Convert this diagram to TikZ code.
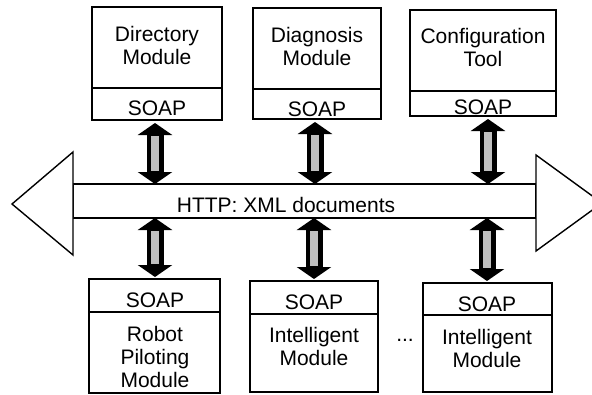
\documentclass[tikz,border=0pt]{standalone}
\usepackage{fontspec}
\setmainfont{Liberation Sans}
\usetikzlibrary{arrows.meta,calc}
\tikzset{
  x=1pt,y=-1pt,
  modbox/.style={draw=black,line width=1.4pt,fill=white,inner sep=0pt},
  divline/.style={draw=black,line width=1.4pt},
  lbl/.style={inner sep=0pt,font=\fontsize{21}{23}\selectfont,align=center},
  bus/.style={draw=black,line width=1.4pt,fill=white,line join=miter},
  dblout/.style={draw=black,line width=17pt,
    {Triangle[width=34pt,length=12pt]}-{Triangle[width=34pt,length=12pt]}},
  dblin/.style={draw=gray!50,line width=8pt,shorten <=13pt,shorten >=13pt},
}
\begin{document}
\begin{tikzpicture}
\useasboundingbox (0,0) rectangle (592,394);
\begin{scope}
\clip (0,0) rectangle (592,394);
% bus arrow
\draw[bus] (73,184) rectangle (536,218);
\draw[bus] (12,204) -- (73,152) -- (73,255) -- cycle;
\draw[bus] (536,155) -- (602,203) -- (536,251) -- cycle;
\node[lbl] (bus) at (286,205) {HTTP: XML documents};
\coordinate (busN) at (0,184);
\coordinate (busS) at (0,218);

% top modules
\draw[modbox] (92,7) rectangle (222,120);
\draw[divline] (92,88) -- (222,88);
\node[lbl] (dirt) at (157,45) {Directory\\Module};
\node[lbl] (dirs) at (157,108) {SOAP};
\coordinate (dir) at (155,120);

\draw[modbox] (253,8) rectangle (381,119);
\draw[divline] (253,89) -- (381,89);
\node[lbl] (diagt) at (317,46) {Diagnosis\\Module};
\node[lbl] (diags) at (317,109) {SOAP};
\coordinate (diag) at (315,119);

\draw[modbox] (410,10) rectangle (556,116);
\draw[divline] (410,91) -- (556,91);
\node[lbl] (conft) at (483,47) {Configuration\\Tool};
\node[lbl] (confs) at (483,107) {SOAP};
\coordinate (conf) at (488,116);

% bottom modules
\draw[modbox] (89,279) rectangle (220,393);
\draw[divline] (89,312) -- (220,312);
\node[lbl] (robs) at (155,300) {SOAP};
\node[lbl,font=\fontsize{21}{23}\selectfont] (robt) at (155,357) {Robot\\Piloting\\Module};
\coordinate (rob) at (155,279);

\draw[modbox] (250,281) rectangle (378,392);
\draw[divline] (250,314) -- (378,314);
\node[lbl] (int1s) at (314,302) {SOAP};
\node[lbl] (int1t) at (314,346) {Intelligent\\Module};
\coordinate (int1) at (314,281);

\draw[modbox] (423,283) rectangle (552,392);
\draw[divline] (423,315) -- (552,315);
\node[lbl] (int2s) at (487,304) {SOAP};
\node[lbl] (int2t) at (487,348) {Intelligent\\Module};
\coordinate (int2) at (487,283);

\node[lbl] (dots) at (405,340) {...};

% double arrows
\foreach \c in {dir,diag,conf}{
  \draw[dblout] ($(\c)+(0,3)$) -- (\c |- busN);
  \draw[dblin] ($(\c)+(0,3)$) -- (\c |- busN);
}
\foreach \c in {rob,int1,int2}{
  \draw[dblout] (\c |- busS) -- ($(\c)+(0,-2)$);
  \draw[dblin] (\c |- busS) -- ($(\c)+(0,-2)$);
}
\end{scope}
\end{tikzpicture}
\end{document}
